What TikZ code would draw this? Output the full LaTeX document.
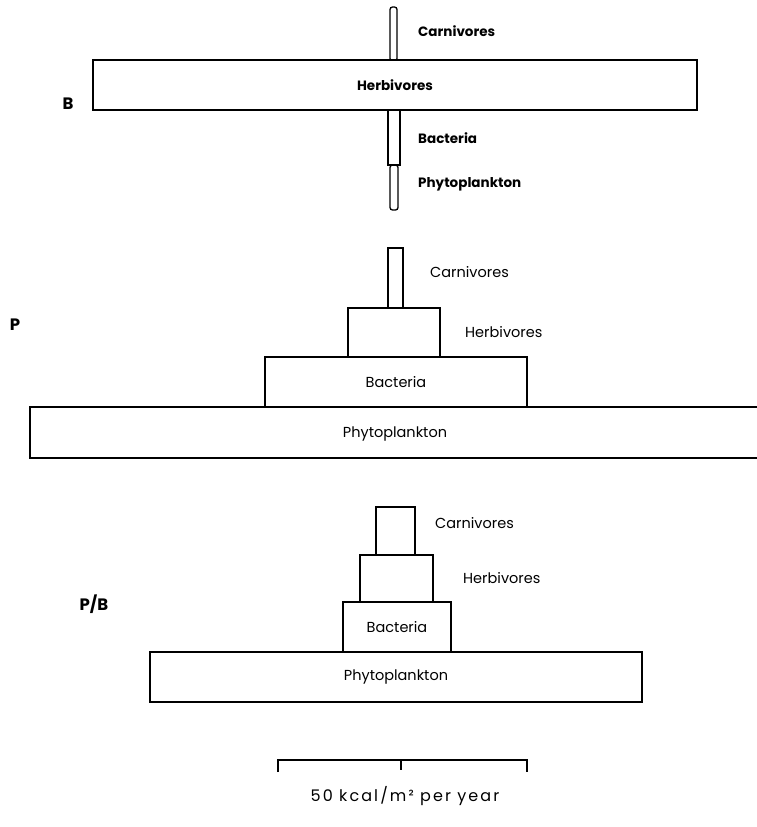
\documentclass[tikz,border=0pt]{standalone}
\usepackage{fontspec}
\setmainfont{Poppins}
\begin{document}
\begin{tikzpicture}[x=1pt,y=-1pt,
  blk/.style={draw, line width=1.3pt, rectangle, inner sep=0pt, font=\fontsize{14.5}{16}\selectfont},
  lab/.style={anchor=west, inner sep=0pt, font=\fontsize{14.5}{16}\selectfont},
  labb/.style={anchor=west, inner sep=0pt, font=\fontsize{13.5}{16}\selectfont\bfseries},
  big/.style={inner sep=0pt, font=\fontsize{16.5}{18}\selectfont\bfseries}]
\useasboundingbox (0,0) rectangle (757,827);
% ---------- B ----------
\node[blk, rounded corners=2.5pt, minimum width=7pt, minimum height=54pt] (bC) at (393.5,34) {};
\node[blk, minimum width=12pt, minimum height=55pt] (bB) at (394,137.5) {};
\node[blk, rounded corners=2.5pt, minimum width=8pt, minimum height=45pt] (bP) at (394,187.5) {};
\node[blk, fill=white, minimum width=604pt, minimum height=50pt, font=\fontsize{13.5}{16}\selectfont\bfseries] (bH) at (395,85) {Herbivores};
\node[labb] (bCl) at (418,31) {Carnivores};
\node[labb] (bBl) at (418,138) {Bacteria};
\node[labb] (bPl) at (418,184) {Phytoplankton};
\node[big] (Bl) at (68,104) {B};
% ---------- P ----------
\node[blk, minimum width=15pt, minimum height=60pt] (pC) at (395.5,278) {};
\node[blk, minimum width=92pt, minimum height=49pt] (pH) at (394,332.5) {};
\node[blk, minimum width=262pt, minimum height=50pt] (pB) at (396,382) {Bacteria};
\node[blk, minimum width=760pt, minimum height=51pt] (pP) at (410,432.5) {};
\node[inner sep=0pt, font=\fontsize{14.5}{16}\selectfont] (pPt) at (395,434) {Phytoplankton};
\node[lab] (pCl) at (430,272) {Carnivores};
\node[lab] (pHl) at (465,332) {Herbivores};
\node[big] (Pl) at (15,325) {P};
% ---------- P/B ----------
\node[blk, minimum width=39pt, minimum height=48pt] (qC) at (395.5,531) {};
\node[blk, minimum width=73pt, minimum height=47pt] (qH) at (396.5,578.5) {};
\node[blk, minimum width=108pt, minimum height=50pt] (qB) at (397,627) {Bacteria};
\node[blk, minimum width=492pt, minimum height=50pt] (qP) at (396,677) {Phytoplankton};
\node[lab] (qCl) at (435,523) {Carnivores};
\node[lab] (qHl) at (463,578) {Herbivores};
\node[big] (PBl) at (94,604) {P/B};
% ---------- scale ----------
\coordinate (s1) at (278,772);
\coordinate (s2) at (278,760);
\coordinate (s3) at (527,760);
\coordinate (s4) at (527,772);
\coordinate (m1) at (401,760);
\coordinate (m2) at (401,770);
\draw[line width=1.2pt] (s1) -- (s2) -- (s3) -- (s4);
\draw[line width=1.2pt] (m1) -- (m2);
\node[inner sep=0pt, font=\fontsize{16}{18}\selectfont\addfontfeature{LetterSpace=13}] (sl) at (405,796) {50 kcal/m² per year};
\end{tikzpicture}
\end{document}
